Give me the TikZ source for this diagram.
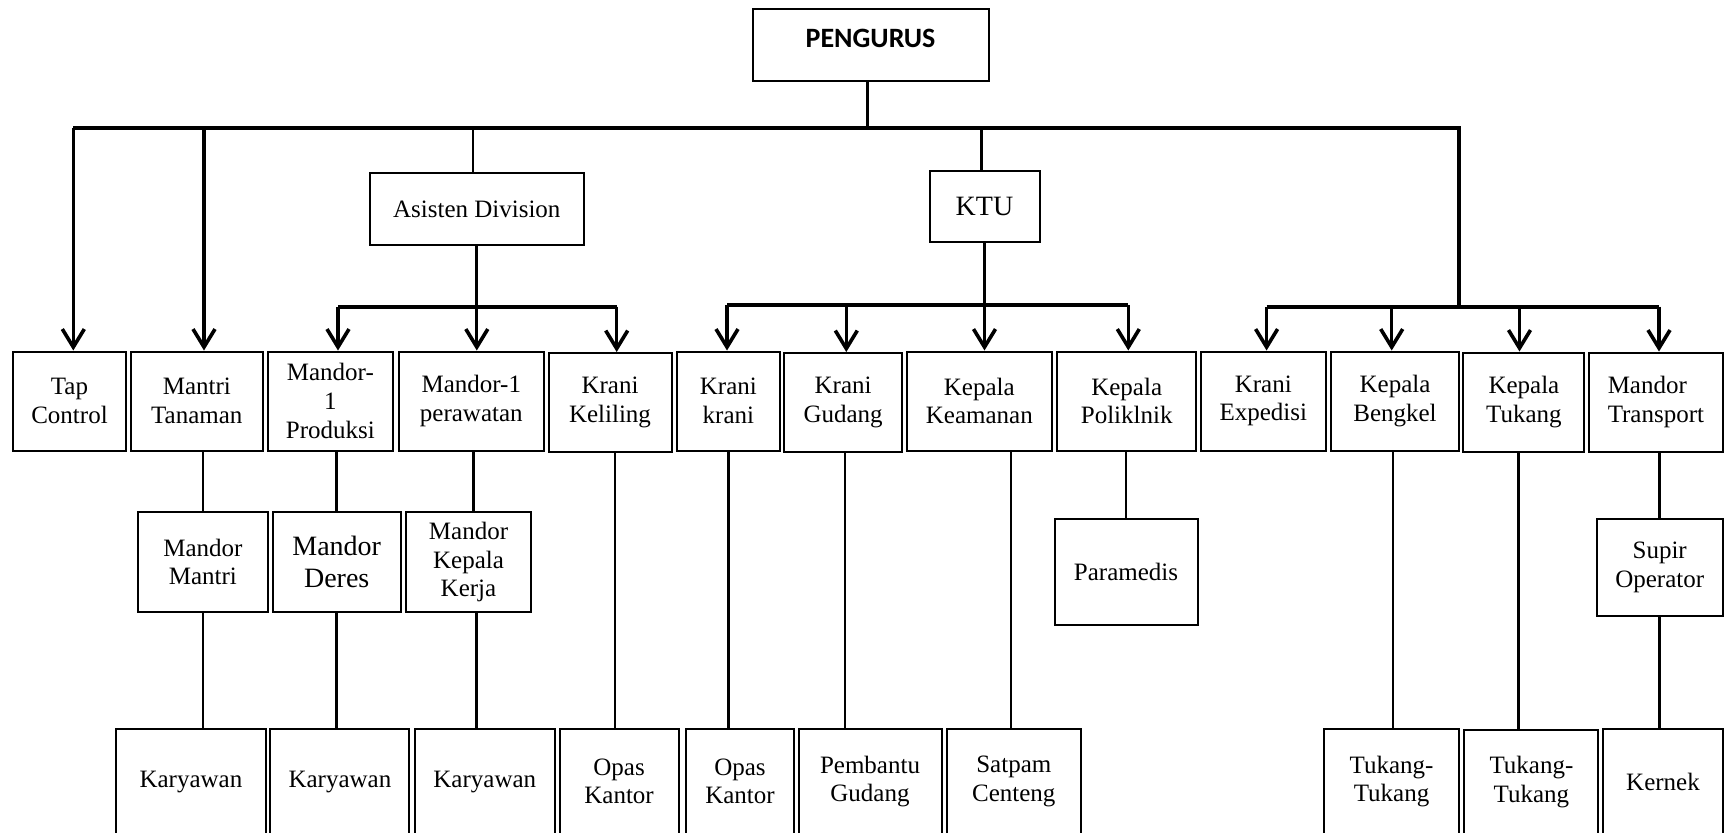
\documentclass[tikz,border=0pt]{standalone}
\usepackage{fontspec}
\setmainfont{Liberation Serif}
\newfontfamily\pengfont{Carlito}
\usetikzlibrary{arrows.meta}
\begin{document}
\begin{tikzpicture}[x=0.5pt,y=-0.5pt,
    orgBox/.style 2 args={draw,line width=1pt,align=center,inner sep=2pt,
        minimum width=#1*0.5pt,minimum height=#2*0.5pt,
        font=\fontsize{12.5}{14.3}\selectfont},
    orgLink/.style={line width=1.3pt},
    orgBar/.style={line width=2pt},
    orgArr/.style={line width=1.6pt,-{Straight Barb[length=9pt,width=11pt,line width=1.8pt]}},
]
\useasboundingbox (0,0) rectangle (1724,832);
\clip (0,0) rectangle (1724,832);
% top level
\node[orgBox={236}{72},font=\pengfont\bfseries\fontsize{14}{16}\selectfont,text depth=7pt] (peng) at (870.5,45) {PENGURUS};
\node[orgBox={213.5}{72}] (asis) at (476.8,209) {Asisten Division};
\node[orgBox={110}{71},font=\fontsize{14}{16}\selectfont] (ktu) at (984.5,206) {KTU};
% first row
\node[orgBox={113.5}{99}] (tap) at (69.5,401) {Tap\\Control};
\node[orgBox={132}{99}] (mantri) at (196.8,401) {Mantri\\Tanaman};
\node[orgBox={125}{99}] (mprod) at (330.4,401) {Mandor-\\1\\Produksi};
\node[orgBox={145.4}{99}] (mrawat) at (471.3,401) {Mandor-1\\perawatan};
\node[orgBox={123}{99}] (keliling) at (610,402.5) {Krani\\Keliling};
\node[orgBox={103.3}{99}] (kkrani) at (728.4,401) {Krani\\krani};
\node[orgBox={117.4}{99}] (kgudang) at (843.1,402.5) {Krani\\Gudang};
\node[orgBox={145}{99}] (kaman) at (979.3,401) {Kepala\\Keamanan};
\node[orgBox={139}{99}] (poli) at (1126.7,401) {Kepala\\Poliklnik};
\node[orgBox={125.6}{99}] (expedisi) at (1263.3,401) {Krani\\Expedisi};
\node[orgBox={128}{99}] (bengkel) at (1395,401) {Kepala\\Bengkel};
\node[orgBox={121}{99}] (ktukang) at (1523.9,402) {Kepala\\Tukang};
\node[orgBox={134}{99},align=left] (transport) at (1655.9,402) {Mandor\\Transport};
% second row
\node[orgBox={130}{100}] (mmantri) at (202.9,562) {Mandor\\Mantri};
\node[orgBox={128}{100},font=\fontsize{14}{16}\selectfont] (mderes) at (336.7,562) {Mandor\\Deres};
\node[orgBox={125}{100}] (mkerja) at (468.5,562) {Mandor\\Kepala\\Kerja};
\node[orgBox={143}{106}] (paramedis) at (1126,572) {Paramedis};
\node[orgBox={126}{97}] (supir) at (1659.7,567.5) {Supir\\Operator};
% third row
\node[orgBox={150}{105}] (kar1) at (190.9,781.5) {Karyawan};
\node[orgBox={139}{105}] (kar2) at (339.9,781.5) {Karyawan};
\node[orgBox={140.6}{105}] (kar3) at (484.8,781.5) {Karyawan};
\node[orgBox={118.8}{105}] (opas1) at (619.1,781.5) {Opas\\Kantor};
\node[orgBox={108}{105}] (opas2) at (740,781.5) {Opas\\Kantor};
\node[orgBox={143}{105}] (pembantu) at (870,781.5) {Pembantu\\Gudang};
\node[orgBox={134.5}{105}] (satpam) at (1013.8,781.5) {Satpam\\Centeng};
\node[orgBox={135}{105}] (tt1) at (1391.5,781.5) {Tukang-\\Tukang};
\node[orgBox={134}{105}] (tt2) at (1531.4,782) {Tukang-\\Tukang};
\node[orgBox={119.5}{105}] (kernek) at (1663,781.5) {Kernek};
% bars
\coordinate (topL) at (73.3,128);
\coordinate (topM) at (204,128);
\coordinate (topR) at (1459.4,128);
\coordinate (aL) at (338,306.7);
\coordinate (aR) at (616.7,306.7);
\coordinate (kL) at (727,305);
\coordinate (kG) at (846.3,305);
\coordinate (kR) at (1128.3,305);
\coordinate (rL) at (1266.6,306.7);
\coordinate (rB) at (1391.7,306.7);
\coordinate (rT) at (1519.5,306.7);
\coordinate (rR) at (1659,306.7);
\draw[orgLink] ([xshift=-1.5pt]peng.south) -- ([xshift=-1.5pt]peng.south |- topL);
\draw[orgBar] (topL) -- (topR) -- (topR |- rR);
\draw[orgBar] (aL) -- (aR);
\draw[orgBar] (kL) -- (kR);
\draw[orgBar] (rL) -- (rR);
% links from the top bar
\draw[orgArr] (topL) -- (topL |- tap.north);
\draw[orgArr] (topM) -- (topM |- mantri.north);
\draw[orgLink] ([xshift=-2pt]asis.north |- topL) -- ([xshift=-2pt]asis.north);
\draw[orgLink] ([xshift=-1.5pt]ktu.north |- topL) -- ([xshift=-1.5pt]ktu.north);
% Asisten Division
\draw[orgArr] (asis.south) -- (asis.south |- mrawat.north);
\draw[orgArr] (aL) -- (aL |- mprod.north);
\draw[orgArr] (aR) -- (aR |- keliling.north);
% KTU
\draw[orgArr] (ktu.south) -- (ktu.south |- kaman.north);
\draw[orgArr] (kL) -- (kL |- kkrani.north);
\draw[orgArr] (kG) -- (kG |- kgudang.north);
\draw[orgArr] (kR) -- (kR |- poli.north);
% right branch
\draw[orgArr] (rL) -- (rL |- expedisi.north);
\draw[orgArr] (rB) -- (rB |- bengkel.north);
\draw[orgArr] (rT) -- (rT |- ktukang.north);
\draw[orgArr] (rR) -- (rR |- transport.north);
% lower links
\draw[orgLink] (mmantri.north |- mantri.south) -- (mmantri.north);
\draw[orgLink] (mmantri.south) -- (mmantri.south |- kar1.north);
\draw[orgLink] (mderes.north |- mprod.south) -- (mderes.north);
\draw[orgLink] (mderes.south) -- (mderes.south |- kar2.north);
\draw[orgLink] ([xshift=1pt]mrawat.south) -- ([xshift=1pt]mrawat.south |- mkerja.north);
\draw[orgLink] ([xshift=4pt]mkerja.south) -- ([xshift=4pt]mkerja.south |- kar3.north);
\draw[orgLink] ([xshift=2.5pt]keliling.south) -- ([xshift=2.5pt]keliling.south |- opas1.north);
\draw[orgLink] (kkrani.south) -- (kkrani.south |- opas2.north);
\draw[orgLink] ([xshift=1pt]kgudang.south) -- ([xshift=1pt]kgudang.south |- pembantu.north);
\draw[orgLink] ([xshift=-1.5pt]satpam.north |- kaman.south) -- ([xshift=-1.5pt]satpam.north);
\draw[orgLink] (paramedis.north |- poli.south) -- (paramedis.north);
\draw[orgLink] ([xshift=-1pt]bengkel.south) -- ([xshift=-1pt]bengkel.south |- tt1.north);
\draw[orgLink] ([xshift=-2.75pt]ktukang.south) -- ([xshift=-2.75pt]ktukang.south |- tt2.north);
\draw[orgLink] (supir.north |- transport.south) -- (supir.north);
\draw[orgLink] (supir.south) -- (supir.south |- kernek.north);
\end{tikzpicture}
\end{document}
